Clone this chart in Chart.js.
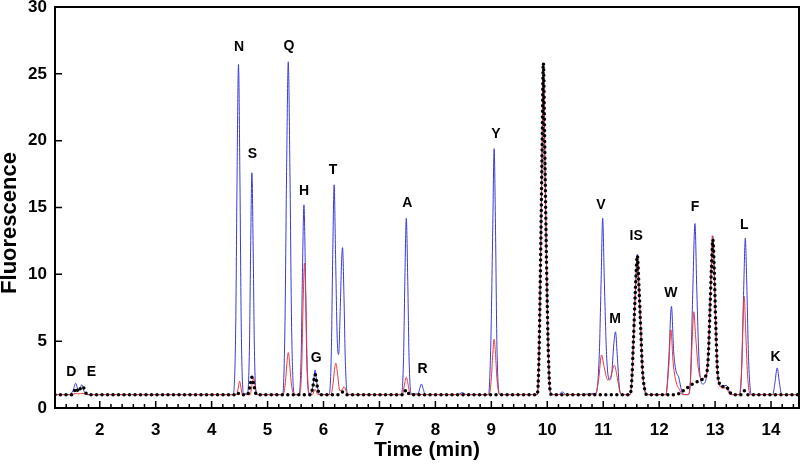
<!DOCTYPE html>
<html>
<head>
<meta charset="utf-8">
<script src="https://cdn.jsdelivr.net/npm/chart.js@4/dist/chart.umd.min.js"></script>
<style>
  body { margin: 0; background: #fff; }
  #wrap { width: 800px; height: 465px; }
</style>
</head>
<body>
<div id="wrap"><canvas id="myChart" width="800" height="465"></canvas></div>
<script>
const blueTrace = [
  [1.2, 1.0], [1.46, 1.0], [1.52, 1.3], [1.57, 1.85], [1.61, 1.35], [1.63, 1.3], [1.68, 1.75], [1.72, 1.25], [1.78, 1.0],
  [4.38, 1.0], [4.43, 5.9], [4.455, 17.5], [4.48, 25.7], [4.505, 17.5], [4.53, 5.9], [4.57, 1.05],
  [4.64, 1.05], [4.675, 4.3], [4.698, 12.1], [4.72, 17.6], [4.742, 12.1], [4.765, 4.3], [4.80, 1.0],
  [5.27, 1.0], [5.31, 6.0], [5.34, 17.7], [5.37, 25.9], [5.40, 17.7], [5.43, 6.0], [5.48, 1.0],
  [5.56, 1.0], [5.60, 3.8], [5.625, 10.5], [5.65, 15.2], [5.675, 10.5], [5.70, 3.8], [5.74, 1.1],
  [5.78, 1.1], [5.82, 1.9], [5.85, 2.85], [5.88, 1.9], [5.93, 1.0],
  [6.10, 1.0], [6.14, 4.2], [6.165, 11.5], [6.19, 16.7], [6.215, 11.5], [6.245, 5.2], [6.27, 4.0], [6.30, 7.5], [6.32, 10.6], [6.34, 12.0], [6.365, 8.5], [6.39, 3.5], [6.43, 1.0],
  [7.39, 1.0], [7.43, 3.6], [7.455, 9.8], [7.48, 14.2], [7.505, 9.8], [7.53, 3.6], [7.57, 1.05],
  [7.69, 1.05], [7.72, 1.45], [7.75, 1.8], [7.78, 1.45], [7.82, 1.0],
  [8.40, 1.0], [8.48, 1.15], [8.56, 1.0],
  [8.95, 1.0], [8.99, 4.7], [9.025, 13.3], [9.05, 19.4], [9.075, 13.3], [9.10, 4.7], [9.15, 1.0],
  [9.82, 1.0], [9.85, 3.5], [9.88, 11.0], [9.905, 18.5], [9.93, 25.6], [9.96, 18.0], [9.99, 10.0], [10.02, 4.0], [10.05, 1.3], [10.08, 1.0],
  [10.20, 1.0], [10.27, 1.2], [10.34, 1.0],
  [10.87, 1.1], [10.93, 4.0], [10.965, 10.0], [10.99, 14.2], [11.02, 9.5], [11.06, 4.0], [11.11, 2.1], [11.15, 2.5], [11.19, 4.8], [11.22, 5.7], [11.25, 4.0], [11.29, 1.5], [11.33, 1.0],
  [11.48, 1.0], [11.51, 2.0], [11.54, 5.0], [11.575, 8.8], [11.61, 11.5], [11.64, 9.0], [11.67, 6.0], [11.70, 3.0], [11.74, 1.4], [11.78, 1.0],
  [12.12, 1.0], [12.17, 3.5], [12.22, 7.6], [12.26, 4.2], [12.30, 2.8], [12.35, 2.3], [12.40, 1.3], [12.45, 1.0],
  [12.52, 1.0], [12.56, 2.2], [12.60, 8.5], [12.64, 13.8], [12.675, 8.5], [12.72, 3.0], [12.78, 1.8], [12.84, 2.2], [12.88, 4.0], [12.91, 7.5], [12.935, 10.8], [12.96, 12.85], [12.985, 10.5], [13.01, 6.5], [13.04, 3.0], [13.08, 1.7], [13.13, 1.6], [13.2, 1.7], [13.26, 1.2], [13.32, 1.0],
  [13.44, 1.0], [13.48, 3.5], [13.515, 9.5], [13.54, 12.7], [13.565, 9.5], [13.60, 3.5], [13.65, 1.0],
  [14.03, 1.0], [14.07, 1.9], [14.11, 3.0], [14.15, 1.9], [14.19, 1.0], [14.5, 1.0]
];

const redTrace = [
  [1.2, 1.0], [1.5, 1.0], [1.58, 1.1], [1.63, 1.05], [1.68, 1.1], [1.8, 1.0],
  [4.45, 1.0], [4.475, 1.5], [4.50, 2.0], [4.525, 1.5], [4.55, 1.0],
  [4.69, 1.0], [4.72, 1.7], [4.75, 2.25], [4.78, 1.6], [4.82, 1.0],
  [5.28, 1.0], [5.32, 2.0], [5.345, 3.3], [5.37, 4.15], [5.395, 3.3], [5.42, 2.0], [5.47, 1.0],
  [5.57, 1.0], [5.61, 3.0], [5.635, 7.8], [5.66, 10.85], [5.685, 7.8], [5.71, 3.0], [5.75, 1.0],
  [5.80, 1.0], [5.85, 1.4], [5.90, 1.0],
  [6.13, 1.0], [6.17, 1.8], [6.195, 2.8], [6.22, 3.35], [6.25, 2.6], [6.29, 1.3], [6.33, 1.35], [6.37, 1.6], [6.41, 1.2], [6.45, 1.0],
  [7.41, 1.0], [7.445, 1.7], [7.48, 2.3], [7.515, 1.7], [7.55, 1.0],
  [8.96, 1.0], [9.00, 2.2], [9.025, 4.0], [9.05, 5.15], [9.075, 4.0], [9.10, 2.2], [9.15, 1.0],
  [9.82, 1.0], [9.85, 3.5], [9.88, 11.0], [9.905, 18.3], [9.93, 25.3], [9.96, 17.8], [9.99, 10.0], [10.02, 4.0], [10.05, 1.3], [10.08, 1.0],
  [10.86, 1.0], [10.92, 2.2], [10.97, 3.97], [11.02, 3.0], [11.08, 2.1], [11.13, 2.3], [11.20, 3.2], [11.25, 2.3], [11.30, 1.2], [11.34, 1.0],
  [11.48, 1.0], [11.51, 2.0], [11.54, 5.0], [11.575, 8.7], [11.61, 11.3], [11.64, 8.9], [11.67, 6.0], [11.70, 3.0], [11.74, 1.4], [11.78, 1.0],
  [12.12, 1.0], [12.17, 3.0], [12.21, 5.85], [12.25, 3.4], [12.30, 2.0], [12.36, 1.4], [12.42, 1.0],
  [12.52, 1.0], [12.56, 2.0], [12.59, 5.0], [12.62, 7.2], [12.65, 5.5], [12.70, 3.0], [12.76, 2.2], [12.84, 2.5], [12.88, 4.2], [12.91, 7.8], [12.935, 11.0], [12.95, 12.9], [12.98, 10.5], [13.01, 6.5], [13.04, 3.0], [13.08, 1.7], [13.13, 1.5], [13.2, 1.5], [13.25, 1.1], [13.3, 1.0],
  [13.43, 1.0], [13.47, 2.5], [13.495, 6.0], [13.52, 8.35], [13.545, 6.0], [13.58, 2.5], [13.63, 1.0],
  [14.5, 1.0]
];

const blackTrace = [
  [1.2, 1.0], [1.5, 1.0], [1.55, 1.3], [1.58, 1.5], [1.62, 1.2], [1.66, 1.5], [1.70, 1.6], [1.74, 1.2], [1.8, 1.0],
  [4.42, 1.0], [4.46, 1.15], [4.50, 1.0],
  [4.64, 1.0], [4.68, 1.5], [4.72, 2.3], [4.76, 1.6], [4.80, 1.0],
  [5.77, 1.0], [5.81, 1.6], [5.85, 2.5], [5.89, 1.6], [5.93, 1.0],
  [6.28, 1.0], [6.34, 1.2], [6.40, 1.0],
  [7.42, 1.0], [7.48, 1.35], [7.54, 1.0],
  [9.82, 1.0], [9.85, 3.5], [9.88, 11.0], [9.905, 18.5], [9.93, 25.8], [9.96, 18.0], [9.99, 10.0], [10.02, 4.0], [10.05, 1.3], [10.08, 1.0],
  [11.48, 1.0], [11.51, 2.0], [11.54, 5.0], [11.575, 8.8], [11.61, 11.4], [11.64, 9.0], [11.67, 6.0], [11.70, 3.0], [11.74, 1.4], [11.78, 1.0],
  [12.30, 1.0], [12.45, 1.35], [12.60, 1.8], [12.75, 2.1], [12.85, 2.6], [12.88, 4.0], [12.91, 7.5], [12.935, 10.5], [12.96, 12.6], [12.985, 10.3], [13.01, 6.5], [13.04, 3.0], [13.08, 1.8], [13.13, 1.6], [13.2, 1.6], [13.26, 1.2], [13.32, 1.0],
  [13.46, 1.0], [13.52, 1.3], [13.58, 1.0],
  [14.5, 1.0]
];

// etiquetas de los picos
const peakNames = ['D', 'E', 'N', 'S', 'Q', 'H', 'G', 'T', 'A', 'R', 'Y', 'V', 'M', 'IS', 'W', 'F', 'L', 'K'];
const peakLabelTimes = [1.49, 1.85, 4.49, 4.73, 5.38, 5.65, 5.87, 6.17, 7.50, 7.77, 9.08, 10.96, 11.21, 11.59, 12.21, 12.64, 13.52, 14.08];
const peakLabelValues = [2.72, 2.72, 26.98, 18.98, 27.1, 16.2, 3.73, 17.8, 15.3, 2.9, 20.5, 15.2, 6.68, 12.85, 8.6, 15.0, 13.7, 3.8];

// ticks
const xTickValues = [2, 3, 4, 5, 6, 7, 8, 9, 10, 11, 12, 13, 14];
const yTickValues = [0, 5, 10, 15, 20, 25, 30];

const FONT = "'Liberation Sans', Arial, Helvetica, sans-serif";

function toXY(trace) {
    return trace.map(p => ({ x: p[0], y: p[1] }));
}

// marco y ticks hacia adentro + letras de los picos
const extras = {
    id: 'extras',
    afterDatasetsDraw(chart) {
        const { ctx, chartArea: a, scales: { x, y } } = chart;
        ctx.save();
        ctx.strokeStyle = '#000';
        ctx.lineWidth = 1.5;
        ctx.beginPath();
        for (let i = 7; i <= 72; i++) { // cada 0.2 min
            const v = i / 5;
            if (v > x.max) break;
            const px = x.getPixelForValue(v);
            const len = (i % 5 === 0) ? 7 : 4;
            ctx.moveTo(px, a.bottom);
            ctx.lineTo(px, a.bottom - len);
        }
        yTickValues.forEach(v => {
            const py = y.getPixelForValue(v);
            ctx.moveTo(a.left, py);
            ctx.lineTo(a.left + 7, py);
        });
        ctx.stroke();

        ctx.lineWidth = 2;
        ctx.strokeRect(a.left, a.top, a.right - a.left, a.bottom - a.top);

        // letras
        ctx.fillStyle = '#000';
        ctx.font = 'bold 14px ' + FONT;
        ctx.textAlign = 'center';
        ctx.textBaseline = 'middle';
        peakNames.forEach((name, i) => {
            ctx.fillText(name, x.getPixelForValue(peakLabelTimes[i]), y.getPixelForValue(peakLabelValues[i]));
        });

        // titulo eje y
        ctx.translate(10, 223);
        ctx.rotate(-Math.PI / 2);
        ctx.font = 'bold 22px ' + FONT;
        ctx.fillText('Fluorescence', 0, 0);
        ctx.restore();
    }
};

const ctx = document.getElementById('myChart').getContext('2d');

const myChart = new Chart(ctx, {
    type: 'line',
    data: {
        datasets: [
            {
                label: 'negro',
                data: toXY(blackTrace),
                borderColor: '#000',
                borderWidth: 3.5,
                borderDash: [0, 5.5],
                borderCapStyle: 'round',
                pointRadius: 0,
                cubicInterpolationMode: 'monotone',
            },
            {
                label: 'rojo',
                data: toXY(redTrace),
                borderColor: '#e8383a',
                borderWidth: 1,
                pointRadius: 0,
                cubicInterpolationMode: 'monotone',
            },
            {
                label: 'azul',
                data: toXY(blueTrace),
                borderColor: '#3a3ad8',
                borderWidth: 1,
                pointRadius: 0,
                cubicInterpolationMode: 'monotone',
            }
        ]
    },
    options: {
        responsive: false,
        animation: false,
        devicePixelRatio: 1,
        layout: { padding: { top: 7, right: 1, left: 0, bottom: 0 } },
        scales: {
            x: {
                type: 'linear',
                min: 1.2,
                max: 14.5,
                afterBuildTicks: (scale) => { scale.ticks = xTickValues.map(v => ({ value: v })); },
                afterFit: (scale) => { scale.height = 57; scale.paddingLeft = 0; scale.paddingRight = 0; },
                grid: { display: false, drawTicks: false },
                border: { display: false },
                ticks: {
                    padding: 12,
                    color: '#000',
                    font: { family: FONT, size: 17, weight: 'bold' },
                    maxRotation: 0,
                    autoSkip: false,
                },
                title: {
                    display: true,
                    text: 'Time (min)',
                    color: '#000',
                    font: { family: FONT, size: 21, weight: 'bold' },
                    padding: { top: 0, bottom: 2 },
                },
            },
            y: {
                min: 0,
                max: 30,
                afterBuildTicks: (scale) => { scale.ticks = yTickValues.map(v => ({ value: v })); },
                afterFit: (scale) => { scale.width = 55; scale.paddingTop = 0; scale.paddingBottom = 0; },
                grid: { display: false, drawTicks: false },
                border: { display: false },
                ticks: {
                    padding: 8,
                    color: '#000',
                    font: { family: FONT, size: 17, weight: 'bold' },
                },
            }
        },
        plugins: {
            legend: { display: false },
            tooltip: { enabled: false },
        }
    },
    plugins: [extras]
});
</script>
</body>
</html>
